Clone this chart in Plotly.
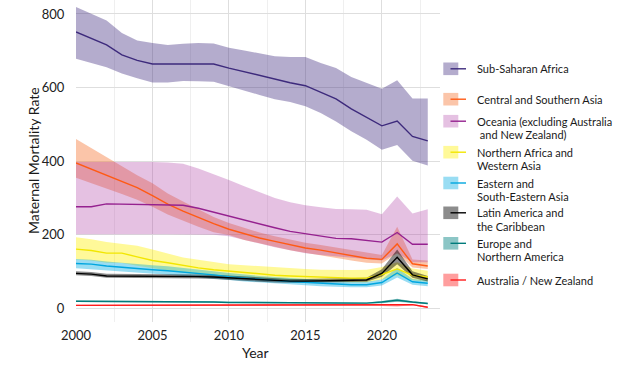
import plotly.graph_objects as go

years = list(range(2000, 2024))

ssa = [751,733,716,689,674,664,664,664,664,664,653,643,633,622,613,605,588,569,542,520,496,509,467,455]
ssa_hi = [819,800,782,748,728,721,716,719,721,720,708,701,694,685,683,683,667,653,629,614,597,620,570,570]
ssa_lo = [678,666,655,638,625,614,614,618,617,616,604,592,580,568,561,549,531,508,481,458,431,444,401,388]

csa = [395,378,362,346,328,306,283,264,246,230,215,202,191,182,172,164,158,150,142,136,133,175,121,115]
csa_hi = [460,435,410,385,362,340,312,290,268,248,232,218,206,196,186,178,172,165,157,150,145,222,133,130]
csa_lo = [355,340,326,311,295,276,255,238,222,207,199,186,176,167,158,150,144,137,130,124,122,150,111,107]

oce = [276,276,284,283,283,282,282,280,272,261,250,240,230,219,209,202,196,190,189,184,180,206,174,174]
oce_hi = [398,398,399,399,399,398,396,393,380,365,349,332,316,300,288,280,275,270,269,268,256,304,258,269]
oce_lo = [201,201,201,201,201,201,201,201,201,200,196,186,176,166,157,150,145,140,137,134,130,150,125,125]

naf = [161,157,150,150,140,130,124,116,110,105,101,97,93,90,88,86,84,83,82,82,92,107,90,85]
naf_hi = [193,188,180,176,170,160,150,138,132,126,120,117,114,112,110,107,105,104,104,105,112,125,108,102]
naf_lo = [133,130,124,123,116,108,103,97,92,88,85,82,79,76,74,73,72,71,70,70,78,90,76,72]

eas = [122,120,115,111,109,105,102,99,96,91,86,82,79,76,73,71,68,65,64,64,70,96,72,68]
eas_hi = [134,132,127,123,121,117,114,110,107,101,96,91,88,85,82,79,76,73,72,72,78,110,80,76]
eas_lo = [109,107,103,99,97,94,91,88,86,81,77,73,70,68,65,63,60,58,57,57,62,84,64,60]

lac = [95,93,88,88,88,88,88,86,86,85,83,80,77,75,74,74,75,76,77,77,95,139,91,80]
lac_hi = [101,99,94,94,94,94,94,92,92,91,89,86,83,81,80,80,81,82,83,83,106,160,101,88]
lac_lo = [90,88,83,83,83,83,83,81,81,80,78,75,72,70,69,69,70,71,72,72,86,120,83,73]

eur = [19,19,18,18,18,18,17,17,17,17,16,16,16,15,15,15,15,14,14,14,17,22,17,13]
eur_hi = [21,21,20,20,20,20,19,19,19,19,18,18,18,17,17,17,17,16,16,16,20,26,19,15]
eur_lo = [17,17,16,16,16,16,15,15,15,15,14,14,14,13,13,13,13,12,12,12,14,18,15,11]

anz = [8,8,8,8,8,8,8,8,8,8,8,8,8,8,8,8,8,8,8,8,8,8,10,3]
anz_hi = [10,10,10,10,10,10,10,10,10,10,10,10,10,10,10,10,10,10,10,10,10,11,12,5]
anz_lo = [6,6,6,6,6,6,6,6,6,6,6,6,6,6,6,6,6,6,6,6,6,5,8,1]

region_names = [
    "Sub-Saharan Africa",
    "Central and Southern Asia",
    "Oceania (excluding Australia\n and New Zealand)",
    "Northern Africa and\nWestern Asia",
    "Eastern and\nSouth-Eastern Asia",
    "Latin America and\nthe Caribbean",
    "Europe and\nNorthern America",
    "Australia / New Zealand",
]
lines = [ssa, csa, oce, naf, eas, lac, eur, anz]
highs = [ssa_hi, csa_hi, oce_hi, naf_hi, eas_hi, lac_hi, eur_hi, anz_hi]
lows = [ssa_lo, csa_lo, oce_lo, naf_lo, eas_lo, lac_lo, eur_lo, anz_lo]

line_colors = ["#3d2a7c", "#ff5a14", "#95218f", "#f2e600", "#00a6df", "#000000", "#007b7b", "#ff1a1a"]
band_colors = ["rgba(67,48,130,0.40)", "rgba(246,110,40,0.40)", "rgba(170,50,160,0.30)",
               "rgba(255,240,0,0.40)", "rgba(0,170,225,0.40)", "rgba(0,0,0,0.45)",
               "rgba(0,128,128,0.45)", "rgba(255,40,40,0.45)"]

fig = go.Figure()
for name, hi, lo, bc in zip(region_names, highs, lows, band_colors):
    fig.add_trace(go.Scatter(x=years + years[::-1], y=hi + lo[::-1], fill="toself",
                             fillcolor=bc, line=dict(width=0), mode="lines",
                             hoverinfo="skip", showlegend=False))
for name, ln, lc in zip(region_names, lines, line_colors):
    fig.add_trace(go.Scatter(x=years, y=ln, mode="lines", line=dict(color=lc, width=1.4),
                             name=name.replace("\n", " "), showlegend=False))

# plot area geometry (pixels)
L, R, T, B = 76, 440, 0, 322
def px_x(p):
    return (p - L) / (R - L)
def px_y(p):
    return (B - p) / (B - T)

FONT = "Lato"
shapes = []
annotations = []
row_y = [68.8, 99.2, 121.2, 152.2, 183.0, 212.8, 243.3, 280.0]
for name, yc, lc, bc in zip(region_names, row_y, line_colors, band_colors):
    shapes.append(dict(type="rect", xref="paper", yref="paper",
                       x0=px_x(443.3), x1=px_x(458.3), y0=px_y(yc + 6.3), y1=px_y(yc - 6.3),
                       fillcolor=bc, line=dict(width=0)))
    shapes.append(dict(type="line", xref="paper", yref="paper",
                       x0=px_x(450.5), x1=px_x(466), y0=px_y(yc), y1=px_y(yc),
                       line=dict(color=lc, width=1.4)))
    for i, part in enumerate(name.split("\n")):
        annotations.append(dict(text=part, xref="paper", yref="paper",
                                x=px_x(475), y=px_y(yc + i * 13.6), xanchor="left", yanchor="middle",
                                showarrow=False, font=dict(family=FONT, size=11, color="#1a1a1a")))

annotations.append(dict(text="Maternal Mortality Rate", xref="paper", yref="paper",
                        x=px_x(33), y=px_y(161), textangle=-90, showarrow=False,
                        xanchor="center", yanchor="middle",
                        font=dict(family=FONT, size=14, color="#1a1a1a")))
annotations.append(dict(text="Year", xref="paper", yref="paper",
                        x=px_x(255), y=px_y(352), showarrow=False,
                        xanchor="center", yanchor="middle",
                        font=dict(family=FONT, size=14, color="#1a1a1a")))

fig.update_layout(
    width=628, height=366,
    margin=dict(l=L, r=628 - R, t=T, b=366 - B, autoexpand=False),
    paper_bgcolor="white", plot_bgcolor="white",
    showlegend=False,
    shapes=shapes, annotations=annotations,
    font=dict(family=FONT, size=13, color="#222222"),
    xaxis=dict(range=[2000, 2023.8], dtick=5, tick0=2000, showgrid=True, gridcolor="#dedede",
               gridwidth=1, zeroline=False, showline=False, ticks="outside", ticklen=1,
               automargin=False,
               tickcolor="rgba(0,0,0,0)", tickfont=dict(family=FONT, size=13, color="#222222"),
               minor=dict(dtick=2.5, tick0=2000, showgrid=True, gridcolor="#efefef", gridwidth=1)),
    yaxis=dict(range=[-37.2, 838], tickvals=[0, 200, 400, 600, 800], showgrid=True,
               gridcolor="#dedede", gridwidth=1, zeroline=False, showline=False,
               automargin=False,
               ticks="outside", ticklen=8, tickcolor="rgba(0,0,0,0)",
               tickfont=dict(family=FONT, size=13, color="#222222")),
)

fig.write_html("out.html", config={"displayModeBar": False},
               post_script="document.body.style.margin='0';")
